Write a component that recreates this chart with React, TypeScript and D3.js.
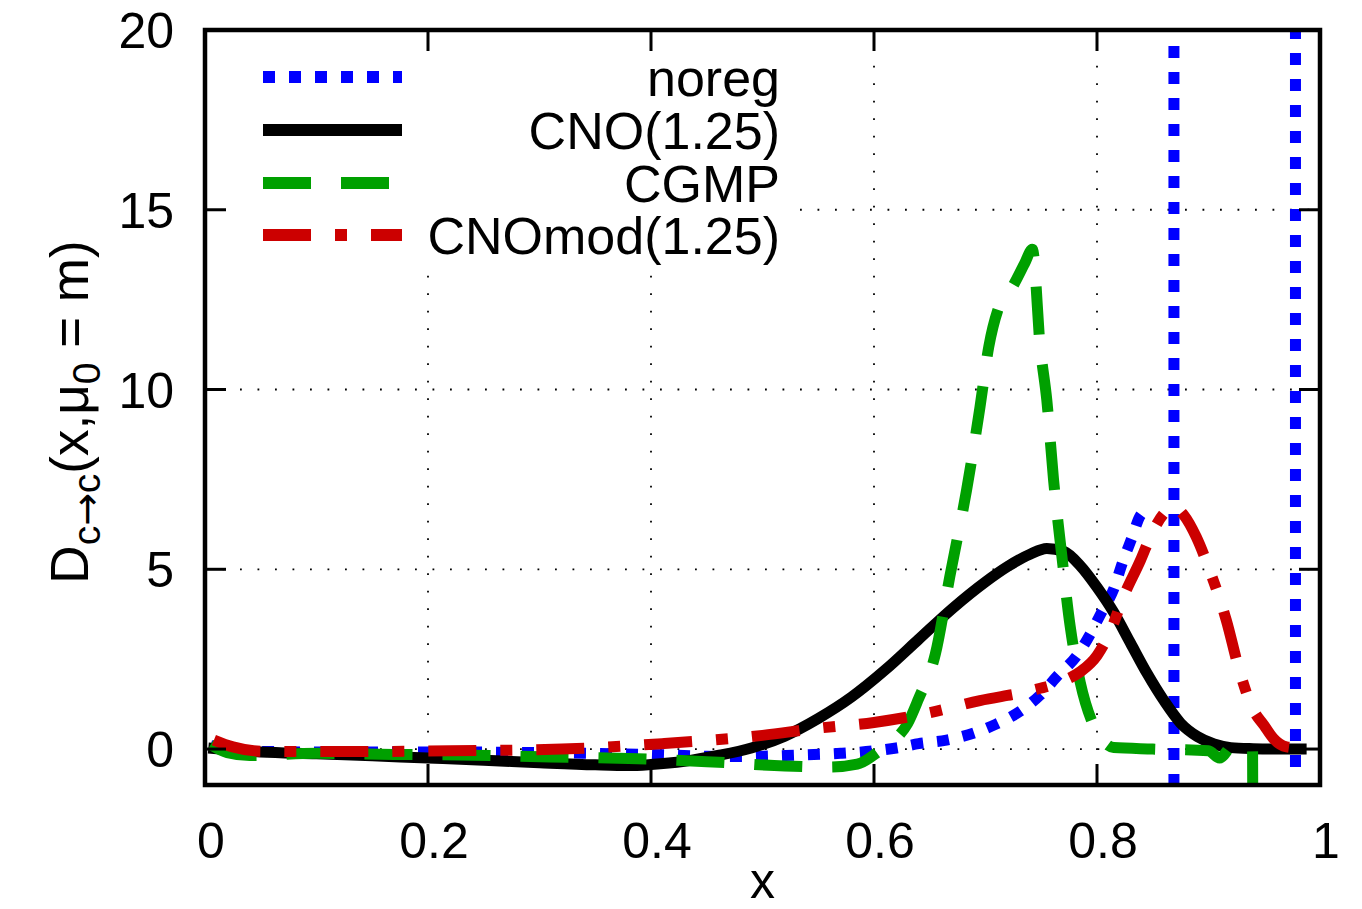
import React from "react";
import * as d3 from "d3";

// ---------- data ----------
const xTicks = [0, 0.2, 0.4, 0.6, 0.8, 1];
const xTickLabels = ["0", "0.2", "0.4", "0.6", "0.8", "1"];
const yTicks = [0, 5, 10, 15, 20];
const yTickLabels = ["0", "5", "10", "15", "20"];
const xGrid = [0.2, 0.4, 0.6, 0.8];
const yGrid = [0, 5, 10, 15];

const seriesNames = ["noreg", "CNO(1.25)", "CGMP", "CNOmod(1.25)"];

// noreg: regular branch, then two pole-like vertical branches
const noregX = [0.005, 0.03, 0.1, 0.2, 0.3, 0.35, 0.4, 0.45, 0.48, 0.53, 0.57, 0.6, 0.62, 0.64, 0.665, 0.69, 0.71, 0.731, 0.749, 0.765, 0.782, 0.794, 0.804, 0.815, 0.823, 0.831, 0.839, 0.842];
const noregY = [0.1, -0.05, -0.08, -0.08, -0.1, -0.12, -0.15, -0.2, -0.21, -0.17, -0.12, -0.05, 0.03, 0.15, 0.25, 0.45, 0.7, 1.05, 1.5, 2.05, 2.6, 3.2, 3.8, 4.45, 5.2, 5.85, 6.5, 6.6];
const noregPole1X = [0.869, 0.869];
const noregPole1Y = [21, -1.5];
const noregPole2X = [0.978, 0.978];
const noregPole2Y = [-0.5, 21];

const cnoX = [0.003, 0.05, 0.1, 0.15, 0.2, 0.25, 0.3, 0.35, 0.38, 0.4, 0.43, 0.46, 0.49, 0.52, 0.55, 0.58, 0.61, 0.64, 0.67, 0.7, 0.72, 0.74, 0.755, 0.77, 0.785, 0.8, 0.815, 0.83, 0.845, 0.86, 0.875, 0.89, 0.905, 0.92, 0.94, 0.96, 0.988];
const cnoY = [0.03, -0.08, -0.13, -0.19, -0.25, -0.31, -0.38, -0.44, -0.46, -0.43, -0.34, -0.18, 0.03, 0.36, 0.85, 1.45, 2.2, 3.05, 3.9, 4.65, 5.08, 5.42, 5.58, 5.5, 5.1, 4.5, 3.8, 2.95, 2.1, 1.35, 0.72, 0.35, 0.14, 0.04, 0.01, 0, 0];

const cgmpX = [0.005, 0.02, 0.04, 0.1, 0.17, 0.24, 0.31, 0.38, 0.45, 0.52, 0.56, 0.585, 0.605, 0.62, 0.63, 0.64, 0.655, 0.668, 0.683, 0.695, 0.703, 0.712, 0.725, 0.735, 0.742, 0.749, 0.755, 0.761, 0.768, 0.776, 0.785, 0.795, 0.805, 0.815, 0.85, 0.9, 0.91, 0.922, 0.9395, 0.9405];
const cgmpY = [0.12, -0.1, -0.18, -0.12, -0.15, -0.17, -0.22, -0.26, -0.35, -0.47, -0.5, -0.42, -0.05, 0.3, 0.7, 1.4, 2.64, 4.8, 7.2, 9.5, 11.2, 12.3, 12.9, 13.5, 13.9, 11.2, 9.7, 7.5, 5.5, 3.4, 1.85, 0.8, 0.25, 0.04, 0, -0.05, -0.25, 0.1, 0, -30];

const cnomodX = [0.008, 0.025, 0.05, 0.12, 0.22, 0.32, 0.41, 0.5, 0.55, 0.6, 0.647, 0.695, 0.74, 0.77, 0.785, 0.8, 0.813, 0.823, 0.839, 0.85, 0.86, 0.868, 0.878, 0.889, 0.901, 0.916, 0.928, 0.94, 0.95, 0.958, 0.97, 0.984];
const cnomodY = [0.25, 0.06, -0.06, -0.07, -0.05, 0, 0.15, 0.38, 0.58, 0.74, 0.99, 1.35, 1.62, 1.9, 2.15, 2.6, 3.35, 4.18, 5.25, 6.05, 6.55, 6.75, 6.5, 5.9, 4.97, 3.58, 2.15, 1.1, 0.65, 0.3, 0.06, 0.02];

// ---------- layout / style ----------
const W = 1362;
const H = 909;
const M = { left: 205, right: 1320, top: 30, bottom: 785 };
const FONT = "'Liberation Sans', Arial, Helvetica, sans-serif";
const LW = 11;

const styles = [
  { color: "#0000ff", dash: "12,14" },
  { color: "#000000", dash: "none" },
  { color: "#00a000", dash: "48,30" },
  { color: "#cc0000", dash: "48,24,12,24" },
];

export default function App() {
  const x = d3.scaleLinear().domain([0, 1]).range([M.left, M.right]);
  const y = d3.scaleLinear().domain([-1, 20]).range([M.bottom, M.top]);
  const smooth = d3
    .line<[number, number]>()
    .x((d) => x(d[0]))
    .y((d) => y(d[1]))
    .curve(d3.curveMonotoneX);
  const straight = d3
    .line<[number, number]>()
    .x((d) => x(d[0]))
    .y((d) => y(d[1]));

  const pairs = (a: number[], b: number[]) => d3.zip(a, b) as [number, number][];

  const seriesPaths: { d: string; s: number }[] = [
    { d: smooth(pairs(noregX, noregY)) || "", s: 0 },
    { d: straight(pairs(noregPole1X, noregPole1Y)) || "", s: 0 },
    { d: straight(pairs(noregPole2X, noregPole2Y)) || "", s: 0 },
    { d: smooth(pairs(cnoX, cnoY)) || "", s: 1 },
    { d: smooth(pairs(cgmpX, cgmpY)) || "", s: 2 },
    { d: smooth(pairs(cnomodX, cnomodY)) || "", s: 3 },
  ];

  const legendRowY = [77, 130, 183, 235];

  return (
    <svg
      width={W}
      height={H}
      style={{ position: "absolute", left: 0, top: 0, display: "block", background: "#fff" }}
      fontFamily={FONT}
    >
      <defs>
        <clipPath id="plotClip">
          <rect x={M.left} y={M.top} width={M.right - M.left} height={M.bottom - M.top} />
        </clipPath>
      </defs>
      <rect x={0} y={0} width={W} height={H} fill="#fff" />

      {/* grid */}
      <g stroke="#000" strokeWidth={1.8} strokeDasharray="1.8,15.7">
        {xGrid.map((v) => (
          <line key={"gx" + v} x1={x(v)} x2={x(v)} y1={M.bottom} y2={M.top} />
        ))}
        {yGrid.map((v) => (
          <line key={"gy" + v} x1={M.left} x2={M.right} y1={y(v)} y2={y(v)} />
        ))}
      </g>

      {/* opaque key box */}
      <rect x={M.left + 2} y={M.top + 2} width={785 - M.left} height={262 - M.top} fill="#fff" />

      {/* curves */}
      <g clipPath="url(#plotClip)" fill="none">
        {seriesPaths.map((p, i) => (
          <path
            key={i}
            d={p.d}
            stroke={styles[p.s].color}
            strokeWidth={LW}
            strokeDasharray={styles[p.s].dash}
            strokeLinejoin="miter"
            strokeMiterlimit={3}
            strokeLinecap="butt"
          />
        ))}
      </g>

      {/* ticks */}
      <g stroke="#000" strokeWidth={3}>
        {xTicks.map((v) => (
          <g key={"tx" + v}>
            <line x1={x(v)} x2={x(v)} y1={M.bottom} y2={M.bottom - 21} />
            <line x1={x(v)} x2={x(v)} y1={M.top} y2={M.top + 21} />
          </g>
        ))}
        {yTicks.map((v) => (
          <g key={"ty" + v}>
            <line x1={M.left} x2={M.left + 21} y1={y(v)} y2={y(v)} />
            <line x1={M.right} x2={M.right - 21} y1={y(v)} y2={y(v)} />
          </g>
        ))}
      </g>

      {/* border */}
      <rect
        x={M.left}
        y={M.top}
        width={M.right - M.left}
        height={M.bottom - M.top}
        fill="none"
        stroke="#000"
        strokeWidth={4.5}
      />

      {/* tick labels */}
      <g fontSize={50} fill="#000">
        {xTicks.map((v, i) => (
          <text key={"lx" + v} x={x(v) + 6} y={858} textAnchor="middle">
            {xTickLabels[i]}
          </text>
        ))}
        {yTicks.map((v, i) => (
          <text key={"ly" + v} x={174} y={y(v) + 18} textAnchor="end">
            {yTickLabels[i]}
          </text>
        ))}
      </g>

      {/* axis titles */}
      <text x={(M.left + M.right) / 2} y={898} textAnchor="middle" fontSize={50}>
        x
      </text>
      <text transform="translate(88,412) rotate(-90)" textAnchor="middle" fontSize={53}>
        <tspan>D</tspan>
        <tspan fontSize={39} dy={12}>c</tspan>
        <tspan fontSize={39} fontFamily="'DejaVu Sans', sans-serif">→</tspan>
        <tspan fontSize={39}>c</tspan>
        <tspan dy={-12}>(x,μ</tspan>
        <tspan fontSize={39} dy={12}>0</tspan>
        <tspan dy={-12}> = m)</tspan>
      </text>

      {/* legend */}
      <g>
        {seriesNames.map((name, i) => (
          <g key={name}>
            <line
              x1={263}
              x2={402}
              y1={legendRowY[i]}
              y2={legendRowY[i]}
              stroke={styles[i].color}
              strokeWidth={LW + 1}
              strokeDasharray={styles[i].dash}
            />
            <text x={780} y={legendRowY[i] + 19} textAnchor="end" fontSize={52}>
              {name}
            </text>
          </g>
        ))}
      </g>
    </svg>
  );
}
